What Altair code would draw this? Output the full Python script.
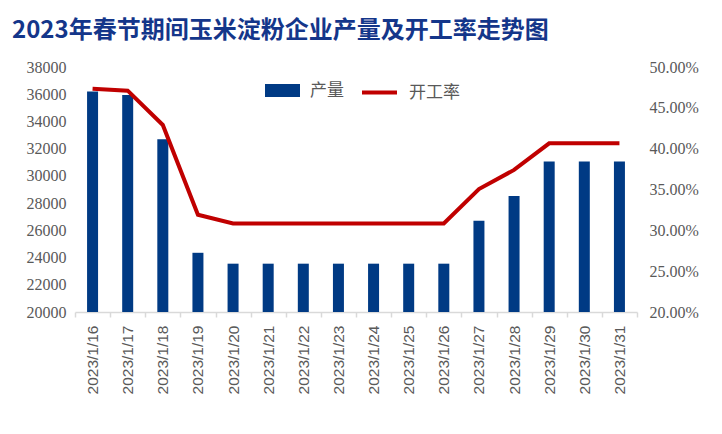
import altair as alt
import pandas as pd

dates = ["2023/1/16", "2023/1/17", "2023/1/18", "2023/1/19", "2023/1/20", "2023/1/21",
         "2023/1/22", "2023/1/23", "2023/1/24", "2023/1/25", "2023/1/26", "2023/1/27",
         "2023/1/28", "2023/1/29", "2023/1/30", "2023/1/31"]
output = [36200, 35950, 32700, 24350, 23550, 23550, 23550, 23550, 23550, 23550, 23550,
          26700, 28520, 31050, 31050, 31050]
rate = [0.4735, 0.471, 0.429, 0.319, 0.3085, 0.3085, 0.3085, 0.3085, 0.3085, 0.3085, 0.3085,
        0.3505, 0.374, 0.4065, 0.4065, 0.4065]
left_ticks = list(range(20000, 38001, 2000))
right_ticks = [0.20, 0.25, 0.30, 0.35, 0.40, 0.45, 0.50]

df = pd.DataFrame({"date": dates, "output": output, "rate": rate,
                   "s1": "产量", "s2": "开工率"})

BLUE = "#003A84"
RED = "#C00000"
GRAY = "#595959"
SERIF = "Liberation Serif, Times New Roman, serif"

x = alt.X("date:O", sort=dates, title=None,
          scale=alt.Scale(paddingInner=0, paddingOuter=0),
          axis=alt.Axis(labelAngle=-90, labelFont="Liberation Sans", labelFontSize=15.5,
                        labelColor=GRAY, domainColor="#D9D9D9", domainWidth=1.5,
                        tickColor="#D9D9D9", tickWidth=1.5, tickSize=5, tickBand="extent",
                        labelPadding=8, grid=False, labelBaseline="middle", labelAlign="right"))

bars = alt.Chart(df).mark_bar(size=11, clip=True).encode(
    x=x,
    y=alt.Y("output:Q", title=None,
            scale=alt.Scale(domain=[20000, 38000], nice=False, zero=False),
            axis=alt.Axis(values=left_ticks, format="d", labelFont=SERIF,
                          labelFontSize=16, labelColor=GRAY, domain=False, ticks=False,
                          grid=False, labelPadding=9)),
    y2=alt.datum(20000),
    color=alt.Color("s1:N", scale=alt.Scale(domain=["产量"], range=[BLUE]),
                    legend=alt.Legend(orient="none", legendX=190, legendY=6, title=None,
                                      symbolType="M-1,-0.37H1V0.37H-1Z", symbolSize=1225,
                                      labelFont="Noto Sans CJK SC", labelFontSize=17,
                                      labelFontWeight="normal",
                                      labelColor=GRAY, labelOffset=10, padding=0,
                                      symbolStrokeWidth=0)),
)

line = alt.Chart(df).mark_line(strokeWidth=4).encode(
    x=x,
    y=alt.Y("rate:Q", title=None,
            scale=alt.Scale(domain=[0.2, 0.5], nice=False, zero=False),
            axis=alt.Axis(orient="right", values=right_ticks, format=".2%",
                          labelFont=SERIF, labelFontSize=16, labelColor=GRAY,
                          domain=False, ticks=False, grid=False, labelPadding=12)),
    stroke=alt.Stroke("s2:N", scale=alt.Scale(domain=["开工率"], range=[RED]),
                      legend=alt.Legend(orient="none", legendX=285, legendY=6, title=None,
                                        symbolType="stroke", symbolSize=1225,
                                        symbolStrokeWidth=4,
                                        labelFont="Noto Sans CJK SC", labelFontSize=17,
                                        labelColor=GRAY, labelOffset=10, padding=0)),
)

chart = alt.layer(bars, line).resolve_scale(y="independent", color="independent").properties(
    width=562, height=245,
    autosize=alt.AutoSizeParams(type="none"),
    padding={"left": 67, "top": 59, "right": 77, "bottom": 100},
    title=alt.TitleParams("2023年春节期间玉米淀粉企业产量及开工率走势图", anchor="start",
                          frame="group", dx=-63, offset=16, font="Noto Sans CJK SC",
                          fontSize=24, fontWeight="bold", color="#14368A"),
).configure_view(stroke=None).configure_axisY(labelFont=SERIF)

chart.save("out.html", embed_options={"renderer": "svg", "actions": False})
